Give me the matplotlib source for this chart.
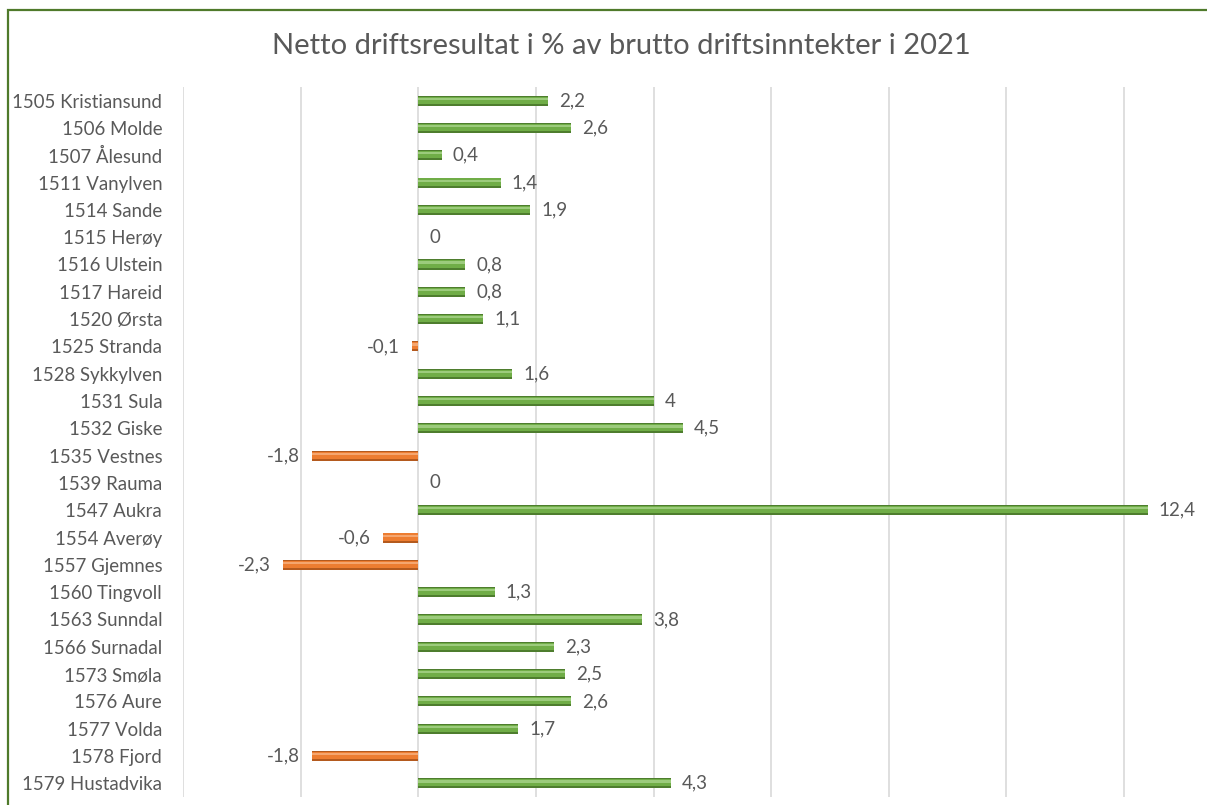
import numpy as np
import matplotlib
matplotlib.use("Agg")
import matplotlib.pyplot as plt
from matplotlib.patches import Rectangle
from matplotlib.ticker import MultipleLocator

# ---- Data ----
KOMMUNER = [
    "1505 Kristiansund", "1506 Molde", "1507 Ålesund", "1511 Vanylven",
    "1514 Sande", "1515 Herøy", "1516 Ulstein", "1517 Hareid",
    "1520 Ørsta", "1525 Stranda", "1528 Sykkylven", "1531 Sula",
    "1532 Giske", "1535 Vestnes", "1539 Rauma", "1547 Aukra",
    "1554 Averøy", "1557 Gjemnes", "1560 Tingvoll", "1563 Sunndal",
    "1566 Surnadal", "1573 Smøla", "1576 Aure", "1577 Volda",
    "1578 Fjord", "1579 Hustadvika",
]
RESULTAT = [
    2.2, 2.6, 0.4, 1.4,
    1.9, 0.0, 0.8, 0.8,
    1.1, -0.1, 1.6, 4.0,
    4.5, -1.8, 0.0, 12.4,
    -0.6, -2.3, 1.3, 3.8,
    2.3, 2.5, 2.6, 1.7,
    -1.8, 4.3,
]

TITLE = "Netto driftsresultat i % av brutto driftsinntekter i 2021"

# ---- Style ----
GREEN, GREEN_DARK, GREEN_LIGHT = "#70AD47", "#4E7D2E", "#9CCB7C"
ORANGE, ORANGE_DARK, ORANGE_LIGHT = "#ED7D31", "#B45A1E", "#F5A66F"
TEXT = "#595959"
FONT = "Lato"

plt.rcParams["font.family"] = [FONT, "DejaVu Sans"]

W, H = 1207, 805
fig = plt.figure(figsize=(W / 100, H / 100), dpi=100)
fig.patch.set_facecolor("white")

# outer chart border (cropped on right and bottom)
fig.patches.append(Rectangle((7.5 / W, -0.2), 1.5, 1.2 - 10.5 / H,
                             transform=fig.transFigure, fill=False,
                             edgecolor="#4F7A2B", linewidth=1.6))

ax = fig.add_axes([183 / W, 1 - 797 / H, (W - 183) / W, (797 - 87) / H])

y = np.arange(len(KOMMUNER))
vals = np.array(RESULTAT)
pos = vals >= 0

base = [GREEN_DARK if p else ORANGE_DARK for p in pos]
main = [GREEN if p else ORANGE for p in pos]
light = [GREEN_LIGHT if p else ORANGE_LIGHT for p in pos]

# bevelled bars: dark body, mid fill, light top strip
ax.barh(y, vals, height=0.37, color=base, zorder=3)
ax.barh(y - 0.02, vals, height=0.26, color=main, zorder=4)
ax.barh(y - 0.07, vals, height=0.08, color=light, zorder=5)

for yi, v in zip(y, vals):
    label = f"{v:.1f}".replace(".", ",")
    if label.endswith(",0"):
        label = label[:-2]
    if v < 0:
        ax.annotate(label, (v, yi), xytext=(-9, 0), textcoords="offset points",
                    ha="right", va="center", fontsize=13.5, color=TEXT)
    else:
        ax.annotate(label, (v, yi), xytext=(8, 0), textcoords="offset points",
                    ha="left", va="center", fontsize=13.5, color=TEXT)

ax.set_xlim(-4, (W - 183) / ((1124 - 183) / 16) - 4)
ax.set_ylim(len(KOMMUNER) - 0.5, -0.5)
ax.xaxis.set_major_locator(MultipleLocator(2))
ax.grid(True, axis="x", color="#D9D9D9", linewidth=1.2, zorder=0)
ax.set_axisbelow(True)

ax.set_yticks(y)
ax.set_yticklabels(KOMMUNER, fontsize=13.4, color=TEXT)
ax.tick_params(axis="y", length=0, pad=15)
ax.tick_params(axis="x", length=0, labelbottom=False)
for s in ax.spines.values():
    s.set_visible(False)

fig.text(621 / W, 1 - 46 / H, TITLE, ha="center", va="center",
         fontsize=21, color=TEXT)

fig.savefig("out.png", dpi=100, facecolor="white")
